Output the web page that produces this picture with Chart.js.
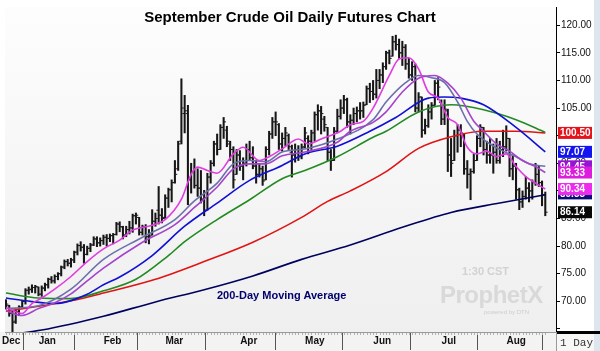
<!DOCTYPE html>
<html>
<head>
<meta charset="utf-8">
<script src="https://cdn.jsdelivr.net/npm/chart.js@4.4.1/dist/chart.umd.min.js"></script>
<style>
html, body { margin: 0; padding: 0; background: #fff; }
#wrap { position: relative; width: 600px; height: 351px; overflow: hidden; }
#title { position: absolute; left: 0; top: 8px; width: 580px; text-align: center;
  font: bold 15px "Liberation Sans", Arial, sans-serif; color: #000; line-height: 18px; }
#ma200 { position: absolute; left: 217px; top: 289px; font: bold 11px "Liberation Sans", Arial, sans-serif;
  color: #00006e; line-height: 13px; }
#clock { position: absolute; left: 462px; top: 265px; font: bold 11px "Liberation Sans", Arial, sans-serif;
  color: #d2d2d2; line-height: 13px; }
#logo { position: absolute; left: 440px; top: 282px; font: bold 24px "Liberation Sans", Arial, sans-serif;
  color: #d9d9d9; line-height: 26px; letter-spacing: -0.5px; }
#powered { position: absolute; left: 484px; top: 309px; font: 6px "Liberation Sans", Arial, sans-serif;
  color: #cdcdcd; }
</style>
</head>
<body>
<div id="wrap">
<canvas id="myChart" width="600" height="351"></canvas>
<div id="title">September Crude Oil Daily Futures Chart</div>
<div id="ma200">200-Day Moving Average</div>
<div id="clock">1:30 CST</div>
<div id="logo">ProphetX</div>
<div id="powered">powered by DTN</div>
</div>
<script>
// month ticks (bar index of first session in the month)
const monthLabels = ['Dec', 'Jan', 'Feb', 'Mar', 'Apr', 'May', 'Jun', 'Jul', 'Aug'];
const monthStarts = [-0.3, 11, 31, 50, 73, 93, 114, 135, 155];
const yTicks = [65, 70, 75, 80, 85, 90, 95, 100, 105, 110, 115, 120];

// daily bars, Dec 16 .. Aug 16
const highs = [70.3,69.3,68.4,68.5,69.2,70.2,72.3,72.6,73.0,72.9,72.6,
  72.8,73.3,74.2,74.5,74.8,75.2,76.4,77.5,77.6,77.8,79.1,80.4,80.8,80.3,80.0,80.5,81.7,81.7,81.5,82.0,
  82.1,82.2,82.3,84.3,84.4,83.6,83.6,84.5,85.8,86.0,85.2,83.8,83.9,83.0,86.6,86.0,90.8,86.8,89.3,
  90.5,92.0,95.5,99.0,110.3,107.3,105.5,95.0,95.8,94.0,93.7,90.1,93.2,95.5,99.0,100.3,102.0,103.3,101.7,99.0,98.0,97.5,97.3,
  96.0,98.5,99.0,98.0,95.5,95.0,94.5,98.0,100.8,103.3,104.3,102.2,100.5,101.5,100.3,98.3,98.5,98.2,98.5,101.5,
  100.0,101.0,104.3,105.6,105.3,103.5,101.5,97.5,101.5,104.8,106.5,107.3,106.8,103.8,105.0,105.2,106.0,106.1,109.0,109.5,110.0,
  112.0,112.0,113.2,115.3,115.5,118.0,118.2,117.5,117.1,116.5,114.0,113.4,113.0,107.8,107.0,103.0,105.6,106.0,110.0,110.5,106.5,
  106.5,104.8,99.5,101.0,102.0,102.0,100.3,95.5,94.0,96.7,100.0,102.0,101.5,99.0,99.5,98.5,99.5,99.0,101.0,101.8,
  99.5,96.5,95.0,90.5,90.0,92.6,91.5,92.0,95.0,94.5,91.8,89.8];
const lows = [68.6,67.3,64.4,66.0,67.4,68.7,69.5,71.3,71.6,71.5,71.0,
  70.9,71.9,72.4,73.3,73.3,73.9,74.6,75.9,76.4,76.2,77.0,78.4,79.1,76.9,78.4,79.0,80.1,79.9,80.0,80.3,
  80.0,80.8,80.4,82.0,82.6,81.3,81.7,82.2,82.5,84.0,82.0,82.0,80.6,80.4,82.0,83.6,84.0,84.2,85.0,
  87.0,88.0,91.4,93.7,98.5,100.5,87.5,89.6,90.5,89.0,87.8,85.5,86.5,91.4,94.5,96.5,97.5,99.5,98.0,95.5,90.5,93.0,93.7,
  92.0,94.5,95.5,94.0,91.4,92.5,91.0,92.0,96.5,99.5,100.0,97.5,97.2,98.2,97.5,92.5,95.2,95.5,95.8,97.8,
  96.7,97.5,99.0,101.0,100.3,100.8,95.5,93.7,95.5,100.5,103.0,104.0,101.5,100.3,102.0,102.5,103.0,103.3,105.6,106.0,106.5,
  106.8,108.5,109.6,112.0,113.0,114.4,115.5,114.0,112.7,112.0,110.4,110.0,104.3,104.3,99.7,100.3,101.5,103.0,105.5,106.5,102.0,
  102.0,93.5,92.6,95.5,97.0,98.0,93.0,90.5,88.4,93.2,95.5,98.0,96.5,95.0,95.0,93.2,95.0,95.0,96.2,97.2,
  92.6,92.0,88.5,86.6,87.0,88.5,88.0,88.5,91.0,90.8,87.3,85.5];
const opens = [69.0,69.2,67.8,66.4,68.0,69.0,70.0,72.0,72.2,72.5,72.6,
  71.3,72.4,73.0,74.0,73.7,74.5,75.0,76.2,77.2,76.9,77.5,78.9,80.1,79.8,78.5,79.6,80.2,81.3,80.6,81.0,
  81.6,81.4,81.9,82.1,84.0,83.5,82.0,83.0,83.3,85.5,85.2,82.5,83.5,81.7,82.0,84.5,86.5,85.6,85.2,
  88.7,90.2,91.5,94.0,99.0,104.0,104.0,92.0,93.5,91.0,90.5,88.5,86.5,92.5,95.0,98.5,97.5,101.5,101.0,98.5,97.5,93.0,96.5,
  94.5,95.0,97.5,96.0,94.5,93.0,94.0,92.0,97.5,100.3,102.5,102.0,98.5,99.5,100.0,97.0,96.5,97.5,96.2,98.0,
  99.5,99.0,100.5,103.8,104.5,103.0,101.5,97.0,95.5,100.8,103.5,105.0,106.5,102.5,102.8,104.0,104.5,104.5,105.6,108.5,108.0,
  107.5,110.0,111.0,112.5,115.0,114.4,117.0,116.5,115.0,116.0,113.0,111.0,112.5,105.0,107.0,101.0,101.8,104.3,105.5,109.5,106.0,
  103.0,104.5,96.5,95.5,100.0,101.0,100.3,94.0,93.0,93.5,95.5,99.5,101.5,97.5,96.5,96.5,97.0,95.5,97.5,98.0,
  99.5,94.0,94.5,90.2,88.0,89.0,90.5,90.0,91.5,93.0,91.5,89.3];
const closes = [69.5,67.8,66.2,68.1,68.9,70.0,72.0,72.1,72.5,72.7,71.3,
  72.4,73.0,74.0,73.7,74.5,75.0,76.2,77.2,76.9,77.5,78.9,80.1,79.8,78.5,79.6,80.2,81.3,80.6,81.0,81.6,
  81.4,81.9,82.1,84.0,83.5,82.0,83.0,83.3,85.5,85.6,82.5,83.5,81.7,81.8,84.5,85.0,85.6,85.0,88.7,
  90.2,91.5,93.0,98.5,105.0,104.5,92.0,93.5,91.0,90.5,88.5,86.5,92.5,95.0,98.5,97.5,101.5,102.5,99.0,97.5,92.0,96.5,94.5,
  95.0,97.5,96.0,94.5,93.0,94.0,91.8,97.5,100.3,102.5,102.5,98.5,99.5,100.5,98.0,96.5,97.5,96.2,97.8,100.5,
  99.0,100.5,103.8,104.5,104.0,102.0,97.0,95.5,100.8,103.5,105.0,106.5,102.5,102.8,104.0,104.5,104.5,105.5,108.5,108.0,107.5,
  110.0,111.0,112.5,115.0,114.0,117.0,116.5,115.0,116.0,113.0,111.0,112.5,105.0,107.0,101.0,101.8,104.3,105.5,109.5,108.8,103.0,
  104.8,96.5,95.0,100.0,101.0,100.5,94.0,93.0,93.5,95.5,99.5,101.5,97.5,96.5,96.5,97.0,95.5,97.5,98.0,99.5,
  94.0,94.5,90.2,88.0,89.0,90.5,90.0,91.5,93.0,91.5,89.3,86.14];

// moving averages as [bar index, price]
const ma200 = [[0,63.9],[11,64.8],[30,67.3],[46,69.9],[61,72.1],[76,74.6],[91,77.6],[106,80.2],[122,83.4],[137,86.1],[152,87.8],[166,89.3]];
const ma100 = [[0,68.2],[11,69.2],[20,70.1],[30,71.5],[46,74.0],[61,77.2],[76,80.7],[91,85.2],[99,88.1],[106,90.0],[117,93.5],[127,97.7],[137,99.8],[147,100.8],[157,100.8],[166,100.5]];
const ma50 = [[0,71.5],[10,70.6],[20,70.5],[30,71.9],[40,74.0],[50,78.3],[55,80.8],[65,84.8],[75,88.4],[85,92.2],[92,93.7],[102,96.2],[113,99.7],[117,100.8],[127,104.3],[137,105.6],[147,104.7],[157,102.9],[166,100.6]];
const ma40 = [[0,70.6],[6,70.1],[15,69.6],[25,71.3],[30,73.0],[35,74.4],[45,78.3],[55,83.6],[65,87.8],[75,91.9],[85,94.6],[92,96.7],[102,98.1],[112,100.8],[120,103.3],[130,106.8],[135,107.0],[140,106.8],[147,105.6],[157,101.5],[166,97.07]];
const ma20 = [[0,68.7],[10,69.2],[20,72.2],[30,77.6],[42,81.6],[52,84.8],[58,88.2],[65,91.4],[70,94.9],[75,95.5],[80,95.3],[85,97.05],[92,97.6],[102,99.4],[113,102.9],[117,106.1],[123,109.6],[127,110.9],[131,110.5],[135,109.6],[139,106.1],[142,102.6],[145,100.3],[149,98.5],[153,97.2],[157,96.2],[161,94.9],[166,94.45]];
const ma18 = [[0,68.3],[5,67.45],[10,68.7],[15,69.75],[20,71.35],[25,73.7],[30,76.0],[42,80.7],[52,83.9],[58,87.0],[65,90.7],[70,94.0],[75,94.9],[80,94.9],[85,96.35],[92,97.05],[102,98.8],[106,100.8],[113,102.4],[117,104.3],[122,107.9],[127,110.4],[132,110.9],[136,109.5],[140,106.8],[144,102.6],[147,100.8],[151,98.5],[155,97.2],[159,95.5],[163,94.4],[166,93.33]];
const ma9 = [[0,68.9],[5,67.8],[8,69.6],[11,70.6],[15,72.2],[20,74.5],[25,77.2],[30,79.5],[35,81.1],[39,82.9],[45,83.8],[49,84.8],[54,88.5],[57,93.0],[59,94.3],[62,93.7],[65,93.2],[70,96.7],[73,97.9],[78,95.5],[81,96.2],[85,97.6],[90,99.4],[93,98.5],[97,99.4],[103,100.8],[106,102.0],[110,102.6],[113,105.0],[118,110.9],[121,113.9],[124,114.1],[127,112.1],[130,107.9],[133,106.8],[136,103.3],[139,102.0],[142,97.9],[145,96.7],[148,97.2],[151,96.2],[154,96.7],[157,94.4],[160,92.6],[163,91.4],[166,90.34]];

// last-value tags on the price axis (drawn in this order)
const tagValues = [100.50, 97.07, 94.45, 93.33, 89.55, 90.34, 86.14];
const tagColors = ['#e5141c', '#1414f0', '#9614d2', '#dc1edc', '#0c0c78', '#ee2aee', '#080808'];

function pts(arr) {
    return arr.map(p => ({ x: p[0], y: p[1] }));
}

function maLine(arr, color) {
    return {
        type: 'line',
        data: pts(arr),
        borderColor: color,
        borderWidth: 1.6,
        pointRadius: 0,
        cubicInterpolationMode: 'monotone',
        fill: false
    };
}

const backdrop = {
    id: 'backdrop',
    beforeDraw(chart) {
        const ctx = chart.ctx;
        const a = chart.chartArea;
        ctx.save();
        ctx.fillStyle = '#ffffff';
        ctx.fillRect(0, 0, chart.width, chart.height);
        const g = ctx.createLinearGradient(0, a.top, 0, a.bottom);
        g.addColorStop(0, '#fdfdfd');
        g.addColorStop(1, '#efefef');
        ctx.fillStyle = g;
        ctx.fillRect(a.left, a.top, a.right - a.left, a.bottom - a.top);
        ctx.fillStyle = '#f3f3f3';
        ctx.fillRect(0, a.bottom, a.right, chart.height - a.bottom);
        ctx.fillStyle = '#dde5ef';
        ctx.fillRect(594, 0, 6, chart.height);
        ctx.restore();
    },
    afterDraw(chart) {
        const ctx = chart.ctx;
        const a = chart.chartArea;
        const x = chart.scales.x;
        const y = chart.scales.y;
        ctx.save();
        // small daily ticks under the date axis
        ctx.strokeStyle = '#b0b0b0';
        ctx.lineWidth = 1;
        ctx.beginPath();
        for (let i = 0; i < highs.length; i++) {
            const px = Math.round(x.getPixelForValue(i)) + 0.5;
            ctx.moveTo(px, a.bottom + 1);
            ctx.lineTo(px, a.bottom + 3);
        }
        ctx.stroke();
        ctx.font = 'bold 10px "Liberation Sans", Arial, sans-serif';
        ctx.textBaseline = 'middle';
        for (let k = 0; k < tagValues.length; k++) {
            const py = y.getPixelForValue(tagValues[k]);
            ctx.fillStyle = tagColors[k];
            ctx.fillRect(a.right + 2, py - 6, 34, 12);
            ctx.fillStyle = '#ffffff';
            ctx.fillText(tagValues[k].toFixed(2), a.right + 4, py + 0.5);
        }
        // bottom right corner: period box
        ctx.fillStyle = '#000';
        ctx.fillRect(a.right, a.bottom - 1, chart.width - a.right, 3);
        ctx.fillStyle = '#f7f7f7';
        ctx.fillRect(a.right + 1, a.bottom + 2, 37, chart.height - a.bottom - 2);
        ctx.strokeStyle = '#9a9a9a';
        ctx.beginPath();
        ctx.moveTo(a.right + 0.5, a.bottom);
        ctx.lineTo(a.right + 0.5, chart.height);
        ctx.stroke();
        ctx.fillStyle = '#333';
        ctx.font = '11px "Liberation Mono", monospace';
        ctx.fillText('1 Day', a.right + 4, a.bottom + 11);
        ctx.restore();
    }
};

const config = {
    type: 'line',
    data: {
        datasets: [
            maLine(ma9, '#e03ce0'),
            maLine(ma18, '#a444cc'),
            maLine(ma20, '#6c70aa'),
            maLine(ma40, '#1010d4'),
            maLine(ma50, '#238a23'),
            maLine(ma100, '#e01414'),
            maLine(ma200, '#00005e'),
            {
                type: 'line',
                data: opens.map((o, i) => ({ x: i - 0.35, y: o })),
                showLine: false,
                pointStyle: 'line',
                pointRadius: 1.2,
                pointBorderWidth: 1,
                borderColor: '#1c1c1c'
            },
            {
                type: 'line',
                data: closes.map((c, i) => ({ x: i + 0.35, y: c })),
                showLine: false,
                pointStyle: 'line',
                pointRadius: 1.2,
                pointBorderWidth: 1,
                borderColor: '#1c1c1c'
            },
            {
                type: 'bar',
                data: highs.map((h, i) => ({ x: i, y: [lows[i], h] })),
                backgroundColor: '#161616',
                barThickness: 1.4,
                grouped: false
            }
        ]
    },
    options: {
        responsive: false,
        animation: false,
        devicePixelRatio: 1,
        layout: { padding: 0 },
        plugins: { legend: { display: false }, tooltip: { enabled: false }, title: { display: false } },
        scales: {
            x: {
                type: 'linear',
                min: -0.3,
                max: 169.3,
                offset: false,
                afterBuildTicks: (scale) => { scale.ticks = monthStarts.map(v => ({ value: v })); },
                afterFit: (scale) => { scale.height = 19; },
                grid: { drawOnChartArea: false, drawTicks: true, tickLength: 18, color: '#555' },
                border: { color: '#999' },
                ticks: {
                    autoSkip: false,
                    maxRotation: 0,
                    align: 'start',
                    labelOffset: -3,
                    padding: -15,
                    color: '#111',
                    font: { family: '"Liberation Sans", Arial, sans-serif', size: 10, weight: 'bold' },
                    callback: (v) => monthLabels[monthStarts.indexOf(v)]
                }
            },
            y: {
                position: 'right',
                min: 64.45,
                max: 123.3,
                afterBuildTicks: (scale) => { scale.ticks = yTicks.map(v => ({ value: v })); },
                afterFit: (scale) => { scale.width = 44; },
                grid: { drawOnChartArea: false, drawTicks: true, tickLength: 4, color: '#000' },
                border: { color: '#000' },
                ticks: {
                    padding: 1,
                    color: '#111',
                    font: { family: '"Liberation Sans", Arial, sans-serif', size: 10 },
                    callback: (v) => (v === 65 ? '' : v.toFixed(2))
                }
            }
        }
    },
    plugins: [backdrop]
};

const myChart = new Chart(document.getElementById('myChart'), config);
</script>
</body>
</html>
